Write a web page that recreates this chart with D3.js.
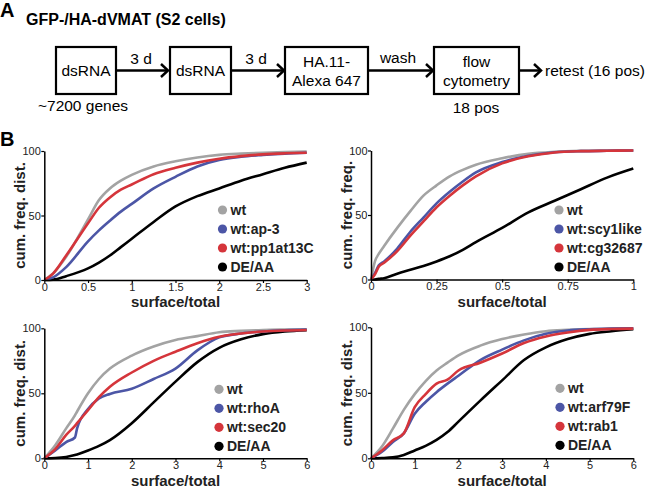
<!DOCTYPE html>
<html>
<head>
<meta charset="utf-8">
<script src="https://cdn.jsdelivr.net/npm/d3@7"></script>
<style>
  html, body { margin: 0; padding: 0; background: #fff; }
  svg { display: block; }
</style>
</head>
<body>
<svg id="chart" width="648" height="487"></svg>
<script>
// ---------------- DATA ----------------
const seriesColors = ["#a3a3a3", "#4c56a6", "#d5353b", "#000000"];

// Panel 1
const p1X = [0, 0.1, 0.25, 0.5, 0.625, 0.75, 0.875, 1, 1.25, 1.5, 1.75, 2, 2.25, 2.5, 2.75, 3];
const p1Wt = [0, 5, 18, 47, 62, 71, 77, 81.5, 88, 92, 95, 97, 98, 98.7, 99.2, 99.5];
const p1Ap3 = [0, 2, 10, 30, 38.5, 46, 53, 59, 71, 80, 88, 93, 95.5, 96.9, 98, 98.7];
const p1Pp1 = [0, 5, 19, 44, 56, 64, 70, 74, 82, 87, 91, 94, 96, 97.4, 98.2, 98.7];
const p1DeAA = [0, 0.3, 3, 9, 13.5, 19, 25.5, 32, 45, 57, 65, 71, 77, 82, 87, 91];
const p1Names = ["wt", "wt:ap-3", "wt:pp1at13C", "DE/AA"];
const p1Ticks = [0, 0.5, 1, 1.5, 2, 2.5, 3];

// Panel 2
const p2X = [0, 0.015, 0.03, 0.05, 0.1, 0.15, 0.2, 0.25, 0.3, 0.35, 0.4, 0.5, 0.6, 0.7, 0.8, 0.9, 1];
const p2Wt = [0, 14, 20, 26, 40, 53, 65, 73, 80, 85, 89, 94, 97.5, 99, 99.7, 100, 100];
const p2Scy = [0, 5, 11, 14, 24, 37, 48, 59, 68, 76, 83, 91, 96, 98.7, 99.5, 99.8, 100];
const p2Cg = [0, 4, 10, 13, 22, 34, 45, 56, 65, 73, 80, 90, 95.5, 98.5, 99.5, 99.8, 100];
const p2DeAA = [0, 0, 0.5, 1, 4.5, 7.5, 10.5, 14, 18, 23, 29, 40, 52, 61, 70, 79, 86];
const p2Names = ["wt", "wt:scy1like", "wt:cg32687", "DE/AA"];
const p2Ticks = [0, 0.25, 0.5, 0.75, 1];

// Panel 3
const p3X = [0, 0.25, 0.5, 0.7, 0.75, 1, 1.25, 1.5, 2, 2.5, 3, 3.5, 4, 4.5, 5, 5.5, 6];
const p3Wt = [0, 10, 23, 33, 36, 50, 61, 69, 79, 86, 91, 94, 97, 98, 98.7, 99, 99.2];
const p3RhoA = [0, 6, 12.5, 16, 23, 38, 46, 49.5, 53.5, 61, 69, 83, 93, 96, 97.5, 98.5, 99];
const p3Sec20 = [0, 7, 18, 25, 27, 37, 47, 55, 66, 75, 82, 88.5, 93.5, 96, 97.5, 98.3, 98.7];
const p3DeAA = [0, 0.2, 1, 2.5, 3, 6, 9.5, 14, 27, 43, 59, 74, 85, 91.5, 95.5, 97.5, 98.5];
const p3Names = ["wt", "wt:rhoA", "wt:sec20", "DE/AA"];
const p3Ticks = [0, 1, 2, 3, 4, 5, 6];

// Panel 4
const p4X = [0, 0.25, 0.5, 0.75, 1, 1.25, 1.5, 1.75, 2, 2.5, 3, 3.5, 4, 4.5, 5, 5.5, 6];
const p4Wt = [0, 9, 22.6, 37, 49, 59, 67, 73, 78.6, 86, 91, 94.5, 97, 98, 98.7, 99, 99.2];
const p4Arf = [0, 5, 12.5, 19, 34, 43, 50.5, 57, 63, 75, 83, 90, 95, 97.5, 98.5, 99, 99.2];
const p4Rab1 = [0, 6, 13.7, 19, 39, 49, 57, 60, 67, 73, 80, 88, 93, 96, 98, 98.7, 99];
const p4DeAA = [0, 0.2, 0.7, 2.5, 6, 9.5, 14, 20, 28, 44, 59.5, 75, 84.7, 91, 95, 97, 98.5];
const p4Names = ["wt", "wt:arf79F", "wt:rab1", "DE/AA"];
const p4Ticks = [0, 1, 2, 3, 4, 5, 6];

const yTicks = [0, 50, 100];
const xTitle = "surface/total";

// ---------------- SETUP ----------------
const svg = d3.select("#chart");
const REG = '"Liberation Sans", Arial, sans-serif';
const BOLD = '"Liberation Sans", Arial, sans-serif';

function txt(x, y, s, size, bold, anchor) {
  return svg.append("text").attr("x", x).attr("y", y).attr("font-size", size)
    .attr("font-family", bold ? BOLD : REG).attr("font-weight", bold ? "bold" : "normal")
    .attr("text-anchor", anchor || "start").text(s);
}

// ---------------- Panel A: flow diagram ----------------
txt(0, 17, "A", 20, true);
txt(26, 25, "GFP-/HA-dVMAT (S2 cells)", 16, true);

const boxes = [
  { x: 56, w: 60, lines: ["dsRNA"] },
  { x: 170, w: 61, lines: ["dsRNA"] },
  { x: 285, w: 83, lines: ["HA.11-", "Alexa 647"] },
  { x: 434, w: 85, lines: ["flow", "cytometry"] }
];
const boxY = 47, boxH = 47, midY = 70.5;
boxes.forEach(b => {
  svg.append("rect").attr("x", b.x).attr("y", boxY).attr("width", b.w).attr("height", boxH)
    .attr("fill", "none").attr("stroke", "#000").attr("stroke-width", 2.2);
  const cx = b.x + b.w / 2;
  if (b.lines.length === 1) {
    txt(cx, 76, b.lines[0], 15.5, false, "middle");
  } else {
    txt(cx, 67, b.lines[0], 15.5, false, "middle");
    txt(cx, 86, b.lines[1], 15.5, false, "middle");
  }
});
function arrow(x1, x2) {
  svg.append("line").attr("x1", x1).attr("x2", x2 - 1).attr("y1", midY).attr("y2", midY)
    .attr("stroke", "#000").attr("stroke-width", 2.5);
  svg.append("path").attr("d", `M${x2 - 7},${midY - 6.5} L${x2},${midY} L${x2 - 7},${midY + 6.5}`)
    .attr("fill", "none").attr("stroke", "#000").attr("stroke-width", 2.5);
}
arrow(116, 168);
arrow(231, 284);
arrow(368, 433);
arrow(519, 541);
txt(141, 64, "3 d", 15.5, false, "middle");
txt(256, 64, "3 d", 15.5, false, "middle");
txt(398, 63, "wash", 15.5, false, "middle");
txt(545, 76, "retest (16 pos)", 15.5, false, "start");
txt(83, 111, "~7200 genes", 15.5, false, "middle");
txt(476, 113, "18 pos", 15.5, false, "middle");

txt(0, 146, "B", 20, true);

// ---------------- Panels B ----------------
const panels = [
  { xs: p1X, ys: [p1Wt, p1Ap3, p1Pp1, p1DeAA], names: p1Names, ticks: p1Ticks, domain: [0, 3],
    x0: 44.3, x1: 306.7, y0: 280, y1: 151, yTitle: "cum. freq. dist.", yTitleX: 25, xTitleY: 307, legX: 222.5, legY: 210 },
  { xs: p2X, ys: [p2Wt, p2Scy, p2Cg, p2DeAA], names: p2Names, ticks: p2Ticks, domain: [0, 1],
    x0: 371, x1: 633.3, y0: 279.5, y1: 150.5, yTitle: "cum. freq. freq.", yTitleX: 352, xTitleY: 307, legX: 559, legY: 210 },
  { xs: p3X, ys: [p3Wt, p3RhoA, p3Sec20, p3DeAA], names: p3Names, ticks: p3Ticks, domain: [0, 6],
    x0: 44.3, x1: 306.7, y0: 458.3, y1: 328.3, yTitle: "cum. freq. dist.", yTitleX: 25, xTitleY: 485.5, legX: 219, legY: 389.3 },
  { xs: p4X, ys: [p4Wt, p4Arf, p4Rab1, p4DeAA], names: p4Names, ticks: p4Ticks, domain: [0, 6],
    x0: 371, x1: 633.3, y0: 458.3, y1: 327.3, yTitle: "cum. freq. dist.", yTitleX: 352, xTitleY: 485.5, legX: 560, legY: 388.3 }
];

panels.forEach(p => {
  const g = svg.append("g");
  const x = d3.scaleLinear().domain(p.domain).range([p.x0, p.x1]);
  const y = d3.scaleLinear().domain([0, 100]).range([p.y0, p.y1]);

  const order = [3, 0, 1, 2];
  order.forEach(i => {
    const data = p.xs.map((xv, k) => [xv, p.ys[i][k]]);
    g.append("path")
      .datum(data)
      .attr("fill", "none")
      .attr("stroke", seriesColors[i])
      .attr("stroke-width", 2.6)
      .attr("stroke-linejoin", "round")
      .attr("d", d3.line().x(d => x(d[0])).y(d => y(d[1])).curve(d3.curveMonotoneX));
  });

  const xAxis = g.append("g").attr("transform", `translate(0,${p.y0})`)
    .call(d3.axisBottom(x).tickValues(p.ticks).tickFormat(d => String(d)).tickSize(3).tickPadding(0).tickSizeOuter(0));
  const yAxis = g.append("g").attr("transform", `translate(${p.x0},0)`)
    .call(d3.axisLeft(y).tickValues(yTicks).tickFormat(d => String(d)).tickSize(3).tickPadding(0.5).tickSizeOuter(0));
  [xAxis, yAxis].forEach(a => {
    a.select(".domain").attr("stroke", "#000").attr("stroke-width", 1.5);
    a.selectAll(".tick line").attr("stroke", "#000").attr("stroke-width", 1.2);
    a.selectAll(".tick text").attr("font-size", 11).attr("font-family", REG).attr("fill", "#222");
  });

  g.append("text").attr("x", (p.x0 + p.x1) / 2).attr("y", p.xTitleY).attr("text-anchor", "middle")
    .attr("font-family", BOLD).attr("font-size", 15).attr("font-weight", "bold").attr("fill", "#222").text(xTitle);
  g.append("text").attr("transform", `translate(${p.yTitleX},${(p.y0 + p.y1) / 2}) rotate(-90)`)
    .attr("text-anchor", "middle").attr("font-family", BOLD).attr("font-size", 15).attr("font-weight", "bold")
    .attr("fill", "#222").text(p.yTitle);

  p.names.forEach((n, i) => {
    const cy = p.legY + i * 19;
    g.append("circle").attr("cx", p.legX).attr("cy", cy).attr("r", 4.6).attr("fill", seriesColors[i]);
    g.append("text").attr("x", p.legX + 8).attr("y", cy + 5).attr("font-family", BOLD).attr("font-size", 14)
      .attr("font-weight", "bold").attr("fill", "#222").text(n);
  });
});
</script>
</body>
</html>
